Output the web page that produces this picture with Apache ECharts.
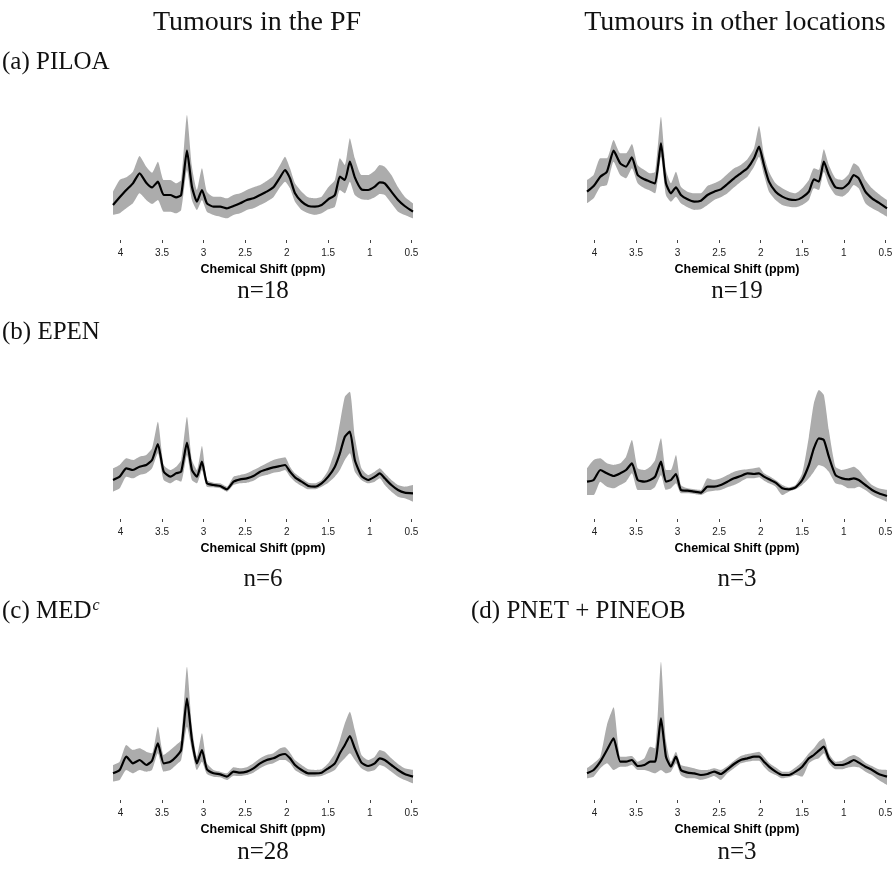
<!DOCTYPE html>
<html><head><meta charset="utf-8">
<script src="https://cdn.jsdelivr.net/npm/echarts@6/dist/echarts.min.js"></script>
<style>html,body{margin:0;padding:0;background:#fff}#c{width:896px;height:874px}</style>
</head><body><div id="c"></div>
<script>
// Chemical shift sample positions (ppm), shared by all panels
const ppm = [4.09, 4.01, 3.93, 3.85, 3.77, 3.69, 3.62, 3.55, 3.48, 3.40, 3.33, 3.27, 3.20, 3.14, 3.08, 3.02, 2.96, 2.88, 2.80, 2.72, 2.64, 2.56, 2.48, 2.40, 2.32, 2.24, 2.16, 2.08, 2.02, 1.96, 1.90, 1.82, 1.74, 1.66, 1.58, 1.50, 1.42, 1.36, 1.30, 1.24, 1.18, 1.10, 1.02, 0.94, 0.88, 0.82, 0.74, 0.66, 0.58, 0.48];
const tickValues = [4, 3.5, 3, 2.5, 2, 1.5, 1, 0.5];

// (a) PILOA, posterior fossa (n=18) — mean and band (a.u.)
const piloaPF_mean = [114,137,159,179,209,181,167,184,144,144,137,144,277,169,124,159,119,109,109,104,111,119,129,134,144,154,167,197,219,194,149,124,111,109,114,131,144,199,189,244,197,161,159,169,182,179,154,129,111,94];
const piloaPF_hi   = [154,189,197,214,261,229,211,244,189,189,179,189,384,229,159,224,154,139,139,134,144,149,159,167,174,186,201,234,259,224,179,154,137,134,139,167,189,254,234,314,254,204,204,217,234,229,204,167,139,119];
const piloaPF_lo   = [84,89,104,119,149,129,117,129,94,94,89,99,219,129,99,129,94,84,79,74,84,89,99,104,114,124,137,167,184,164,124,99,89,84,89,101,109,159,149,184,144,131,129,137,147,144,119,94,84,74];

// (a) PILOA, other locations (n=19)
const piloaOther_mean = [154,171,199,214,277,239,229,257,204,191,184,179,299,179,149,167,144,131,124,127,144,154,161,177,194,209,224,254,289,234,184,154,139,131,129,137,154,191,184,244,204,167,164,179,204,194,154,134,121,104];
const piloaOther_hi   = [189,204,254,254,309,269,269,297,234,219,209,214,379,219,179,214,169,154,149,149,171,179,189,207,224,234,251,284,351,264,214,179,164,154,149,164,189,224,219,281,234,194,189,207,239,229,189,164,147,129];
const piloaOther_lo   = [119,134,169,174,244,204,194,224,179,164,157,149,259,144,124,139,119,107,99,101,114,129,137,149,167,184,199,229,259,204,154,129,114,109,107,114,129,164,159,214,174,144,139,154,174,164,119,104,94,79];

// (b) EPEN, posterior fossa (n=6)
const epenPF_mean = [126,136,161,156,166,171,186,234,151,136,146,151,238,156,136,181,116,111,108,98,121,128,131,138,151,158,164,168,171,151,134,121,108,106,116,136,166,206,256,271,186,138,126,136,146,131,111,96,88,86];
const epenPF_hi   = [161,171,191,186,196,201,221,301,171,156,166,186,316,186,156,228,126,118,116,106,136,141,146,156,166,176,186,191,194,166,146,131,118,116,126,156,216,296,376,391,256,161,141,151,161,146,126,111,106,111];
const epenPF_lo   = [91,101,136,131,141,146,161,206,126,116,126,121,201,126,116,156,106,104,101,91,111,116,118,124,136,141,148,151,156,136,121,108,98,98,106,118,136,156,186,206,151,126,116,121,131,111,91,76,71,61];

// (b) EPEN, other locations (n=3)
const epenOther_mean = [121,126,156,146,138,146,156,176,126,121,126,136,181,121,126,144,96,94,91,88,106,106,111,121,131,138,146,144,146,136,128,118,101,98,104,126,171,221,251,246,196,141,131,128,131,126,111,96,86,78];
const epenOther_hi   = [161,186,191,176,171,176,196,246,161,156,166,186,251,156,156,201,111,101,98,96,131,126,131,141,151,156,158,161,164,146,138,126,111,104,111,146,256,356,396,381,276,166,156,161,166,156,131,111,101,96];
const epenOther_lo   = [81,81,121,106,101,111,121,146,96,96,96,106,141,96,101,116,86,86,84,81,91,94,96,104,111,121,131,131,134,124,116,106,81,91,98,111,131,151,171,166,151,116,111,101,101,106,96,81,71,61];

// (c) MED, posterior fossa (n=28)
const medPF_mean = [89,99,139,119,129,114,127,179,119,124,139,159,314,189,119,159,101,89,86,79,94,91,94,104,119,129,134,144,147,134,114,99,89,89,91,104,119,149,174,201,164,121,111,119,134,129,114,99,87,79];
const medPF_hi   = [114,124,174,159,164,154,149,229,144,159,174,189,409,229,139,209,119,99,94,89,107,104,107,119,134,144,149,164,167,151,129,114,101,99,101,119,149,189,239,274,219,144,129,139,159,154,134,117,104,99];
const medPF_lo   = [64,69,99,89,99,94,99,149,94,99,114,129,229,159,99,124,87,79,77,69,82,81,84,91,104,114,119,129,129,119,99,87,79,79,81,89,99,119,134,149,129,104,94,99,114,109,94,79,69,59];

// (d) PNET + PINEOB, other locations (n=3)
const pnetOther_mean = [89,99,124,159,194,124,124,129,111,114,124,124,254,139,109,139,99,91,89,84,87,94,87,101,117,129,134,139,139,124,109,94,84,84,94,109,134,144,157,169,134,114,114,121,129,121,109,99,87,79];
const pnetOther_hi   = [104,119,139,234,287,139,139,141,124,134,169,164,424,189,124,154,114,109,104,99,99,104,99,111,127,141,147,151,154,139,121,107,94,94,107,124,149,164,184,194,149,124,127,139,144,137,121,111,101,99];
const pnetOther_lo   = [74,79,104,119,99,109,109,114,99,99,94,89,99,89,94,119,84,74,74,69,74,81,69,89,104,119,124,127,127,109,94,84,74,77,84,79,119,129,134,149,119,101,101,107,109,107,94,84,69,54];

const panels = [
  {mean: piloaPF_mean, hi: piloaPF_hi, lo: piloaPF_lo, col: 0, row: 0},
  {mean: piloaOther_mean, hi: piloaOther_hi, lo: piloaOther_lo, col: 1, row: 0},
  {mean: epenPF_mean, hi: epenPF_hi, lo: epenPF_lo, col: 0, row: 1},
  {mean: epenOther_mean, hi: epenOther_hi, lo: epenOther_lo, col: 1, row: 1},
  {mean: medPF_mean, hi: medPF_hi, lo: medPF_lo, col: 0, row: 2},
  {mean: pnetOther_mean, hi: pnetOther_hi, lo: pnetOther_lo, col: 1, row: 2}
];

const colLeft = [113, 587];
const rowBottom = [243, 522, 803];
const plotW = 300, plotH = 150;
const BAND = '#acacac';
const SMOOTH = 0.18;

const grid = [], xAxis = [], yAxis = [], series = [];
panels.forEach((p, i) => {
  grid.push({left: colLeft[p.col], top: rowBottom[p.row] - plotH, width: plotW, height: plotH});
  xAxis.push({
    type: 'value', gridIndex: i, min: 0.48, max: 4.09, inverse: true, z: 10,
    axisLine: {show: false},
    axisTick: {show: true, inside: true, length: 3, customValues: tickValues, lineStyle: {color: '#444', width: 1}},
    axisLabel: {customValues: tickValues, fontSize: 10, fontFamily: 'Liberation Sans', color: '#222', margin: 5},
    splitLine: {show: false},
    name: 'Chemical Shift (ppm)', nameLocation: 'middle', nameGap: 20,
    nameTextStyle: {fontFamily: 'Liberation Sans', fontWeight: 'bold', fontSize: 12.5, color: '#000'}
  });
  yAxis.push({type: 'value', gridIndex: i, min: 0, max: 450, show: false});
  const pts = arr => ppm.map((x, j) => [x, arr[j]]);
  series.push({type: 'line', xAxisIndex: i, yAxisIndex: i, data: pts(p.hi), showSymbol: false, silent: true, smooth: SMOOTH,
    lineStyle: {opacity: 0}, areaStyle: {color: BAND, opacity: 1, origin: 'start'}, z: 1});
  series.push({type: 'line', xAxisIndex: i, yAxisIndex: i, data: pts(p.lo), showSymbol: false, silent: true, smooth: SMOOTH,
    lineStyle: {opacity: 0}, areaStyle: {color: '#ffffff', opacity: 1, origin: 'start'}, z: 2});
  series.push({type: 'line', xAxisIndex: i, yAxisIndex: i, data: pts(p.mean), showSymbol: false, silent: true, smooth: SMOOTH,
    lineStyle: {color: '#000', width: 2.2}, z: 3});
});

const SERIF = '"Liberation Serif", "DejaVu Serif", serif';
function txt(text, x, y, align, size, rich) {
  const el = {type: 'text', x: x, y: y, silent: true,
    style: {text: text, fontFamily: SERIF, fontSize: size || 25, fill: '#111', align: align || 'center', verticalAlign: 'middle'}};
  if (rich) el.style.rich = rich;
  return el;
}
const graphic = [
  txt('Tumours in the PF', 257, 23, 'center', 28),
  txt('Tumours in other locations', 735, 23, 'center', 28),
  txt('(a) PILOA', 2, 62, 'left'),
  txt('n=18', 263, 291), txt('n=19', 737, 291),
  txt('(b) EPEN', 2, 332, 'left'),
  txt('n=6', 263, 579), txt('n=3', 737, 579),
  txt('(c) MED{sup|c}', 2, 611, 'left', 25, {sup: {fontFamily: SERIF, fontSize: 16, fontStyle: 'italic', fill: '#111', verticalAlign: 'top', padding: [0, 0, 10, 1]}}),
  txt('(d) PNET + PINEOB', 471, 611, 'left'),
  txt('n=28', 263, 852), txt('n=3', 737, 852)
];

const chart = echarts.init(document.getElementById('c'), null, {renderer: 'canvas'});
chart.setOption({animation: false, backgroundColor: '#fff', grid, xAxis, yAxis, series, graphic});
</script>
</body></html>
